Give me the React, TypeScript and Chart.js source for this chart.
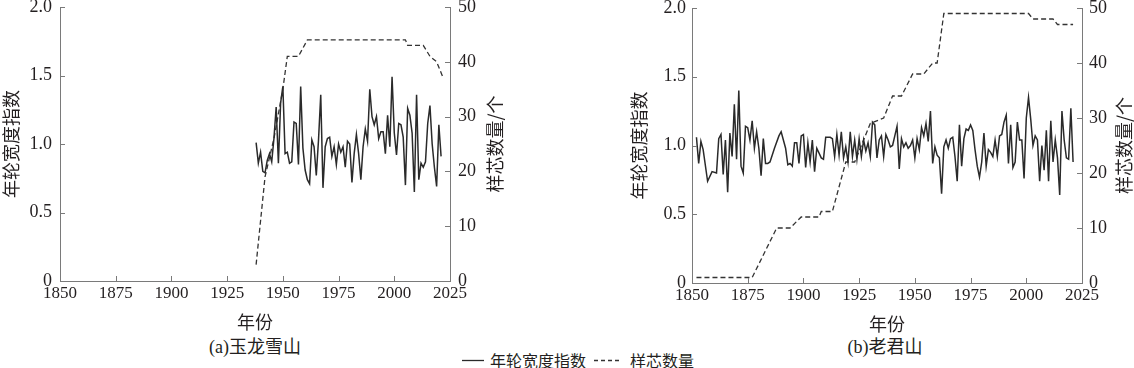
import React, { useEffect, useRef } from 'react';
import { Chart, registerables } from 'chart.js';

Chart.register(...registerables);

// ---------- data ----------
const xTickYears = [1850, 1875, 1900, 1925, 1950, 1975, 2000, 2025];

// (a) 玉龙雪山 — ring width index, yearly from 1938
const yulongStartYear = 1938;
const yulongRWI = [
  1.01, 0.86, 0.94, 0.8, 0.79, 0.88, 0.93, 0.87, 1.04, 1.27,
  0.86, 1.3, 1.42, 0.93, 0.94, 0.86, 0.87, 1.16, 1.15, 0.85,
  1.42, 0.97, 0.81, 0.74, 0.71, 1.03, 0.98, 0.77, 1.03, 1.36,
  0.68, 0.98, 1.04, 1.05, 0.91, 0.98, 0.85, 1.0, 0.94, 0.98,
  0.83, 1.02, 1.0, 0.72, 0.93, 1.07, 0.93, 0.74, 0.98, 1.11,
  1.02, 1.4, 1.2, 1.14, 1.2, 1.04, 1.09, 1.09, 0.93, 1.21,
  0.98, 1.49, 1.08, 0.92, 1.15, 1.14, 1.05, 0.7, 1.26, 1.21,
  1.08, 0.65, 1.36, 0.74, 0.86, 0.83, 0.87, 1.15, 1.28, 1.0,
  0.83, 0.69, 1.14, 0.91,
];
// (a) sample depth
const yulongDepthYears = [1938, 1940, 1942, 1946, 1950, 1952, 1957, 1961, 2005, 2006, 2013, 2016, 2019, 2022];
const yulongDepth = [3, 11, 19, 26, 35, 41, 41, 44, 44, 43, 43, 41, 40, 37];

// (b) 老君山 — ring width index
const laojunYears = [
  1852, 1853, 1854, 1855, 1857, 1859, 1861, 1862, 1863, 1864,
  1865, 1866, 1867, 1868, 1869, 1870, 1871, 1872, 1873, 1874,
  1875, 1876, 1877, 1878, 1879, 1880, 1881, 1882, 1883, 1884,
  1885, 1887, 1889, 1890, 1892, 1893, 1894, 1895, 1896, 1897,
  1898, 1899, 1900, 1901, 1902, 1903, 1904, 1905, 1906, 1908,
  1909, 1910, 1912, 1913, 1914, 1915, 1916, 1917, 1918, 1919,
  1920, 1921, 1922, 1923, 1924, 1925, 1926, 1927, 1928, 1929,
  1930, 1931, 1932, 1933, 1934, 1935, 1936, 1937, 1938, 1939,
  1940, 1941, 1942, 1943, 1944, 1945, 1946, 1947, 1948, 1949,
  1950, 1951, 1952, 1953, 1954, 1955, 1956, 1957, 1958, 1959,
  1960, 1961, 1962, 1963, 1964, 1965, 1966, 1967, 1968, 1969,
  1970, 1971, 1972, 1973, 1974, 1975, 1976, 1977, 1978, 1979,
  1980, 1981, 1982, 1983, 1984, 1985, 1986, 1987, 1988, 1989,
  1990, 1991, 1992, 1993, 1994, 1995, 1996, 1997, 1998, 1999,
  2000, 2001, 2002, 2003, 2004, 2005, 2006, 2007, 2008, 2009,
  2010, 2011, 2012, 2013, 2014, 2015, 2016, 2017, 2018, 2019,
  2020, 2021,
];
const laojunRWI = [
  1.06, 0.87, 1.03, 0.97, 0.74, 0.81, 0.8, 1.05, 1.08, 0.79,
  1.04, 0.66, 1.09, 0.92, 1.3, 0.9, 1.4, 0.85, 0.8, 1.14,
  1.13, 1.04, 1.18, 0.98, 1.1, 0.98, 0.78, 1.05, 0.87, 0.87,
  0.88, 0.98, 1.07, 1.1, 0.98, 0.86, 0.87, 0.85, 1.02, 1.02,
  0.87, 1.07, 1.08, 0.84, 1.02, 0.88, 1.04, 0.81, 0.98, 0.91,
  0.9, 1.06, 1.06, 1.05, 0.92, 1.08, 0.93, 1.1, 0.91, 0.99,
  0.88, 1.1, 0.92, 1.04, 0.9, 1.05, 0.92, 1.04, 0.96, 1.02,
  0.92, 1.17, 1.15, 0.91, 1.04, 1.07, 0.92, 1.08, 1.04, 0.99,
  1.0, 1.07, 1.14, 0.83, 1.05, 0.99, 1.02, 0.98, 1.0, 1.04,
  0.91, 1.05, 0.97, 1.13, 1.07, 1.16, 1.03, 1.25, 0.87, 0.99,
  0.93, 0.91, 0.65, 0.99, 1.04, 0.98, 1.05, 1.06, 0.92, 0.74,
  1.15, 0.85, 1.05, 1.12, 1.11, 1.15, 1.11, 0.97, 0.85, 0.77,
  0.88, 1.09, 0.85, 0.97, 0.95, 0.92, 1.04, 0.92, 1.07, 1.08,
  1.17, 1.22, 0.87, 1.15, 0.84, 0.88, 1.17, 1.04, 1.04, 0.76,
  1.2, 1.35, 1.19, 1.0, 1.07, 1.04, 0.74, 1.0, 0.82, 1.11,
  0.74, 1.18, 0.88, 1.04, 0.91, 0.64, 1.25, 1.04, 0.91, 0.9,
  1.27, 0.88,
];
// (b) sample depth
const laojunDepthYears = [1852, 1877, 1888, 1894, 1899, 1907, 1908, 1913, 1919, 1923, 1930, 1936, 1940, 1944, 1949, 1954, 1958, 1960, 1963, 2001, 2003, 2012, 2014, 2021];
const laojunDepth = [1, 1, 10, 10, 12, 12, 13, 13, 22, 22, 29, 30, 34, 34, 38, 38, 40, 40, 49, 49, 48, 48, 47, 47];

// ---------- styles ----------
const TEXT = '#231f20';
const AXIS = '#7a7a7a';
const SERIF = "'Liberation Serif', 'Times New Roman', serif";
const CJK = "'Noto Sans CJK SC', 'Liberation Serif', sans-serif";
const MIXED = "'Liberation Serif', 'Noto Sans CJK SC', serif";
const TICK_LEN = 5;

const axisExtras = {
  id: 'axisExtras',
  afterDraw(chart: any, _args: any, opts: any) {
    const ctx = chart.ctx;
    const { x, y, y1 } = chart.scales;
    ctx.save();
    ctx.strokeStyle = AXIS;
    ctx.lineWidth = 1;
    ctx.beginPath();
    x.ticks.forEach((t: any) => {
      const p = Math.round(x.getPixelForValue(t.value)) + 0.5;
      ctx.moveTo(p, x.top);
      ctx.lineTo(p, x.top - TICK_LEN);
    });
    y.ticks.forEach((t: any) => {
      const p = Math.round(y.getPixelForValue(t.value)) + 0.5;
      ctx.moveTo(y.right, p);
      ctx.lineTo(y.right + TICK_LEN, p);
    });
    y1.ticks.forEach((t: any) => {
      const p = Math.round(y1.getPixelForValue(t.value)) + 0.5;
      ctx.moveTo(y1.left, p);
      ctx.lineTo(y1.left - TICK_LEN, p);
    });
    ctx.stroke();
    const ca = chart.chartArea;
    ctx.fillStyle = TEXT;
    ctx.font = `18px ${CJK}`;
    ctx.textAlign = 'center';
    ctx.textBaseline = 'middle';
    ctx.translate(ca.right + opts.titleOffset, (ca.top + ca.bottom) / 2);
    ctx.rotate(-Math.PI / 2);
    ctx.fillText(opts.rightTitle, 0, 0);
    ctx.restore();
  },
};

type PanelProps = {
  left: number;
  width: number;
  height: number;
  padTop: number;
  yLeftWidth: number;
  yRightWidth: number;
  yLeftPad: number;
  yRightPad: number;
  titleOffset: number;
  rwYears: number[];
  rwValues: number[];
  depthYears: number[];
  depthValues: number[];
};

function Panel(p: PanelProps) {
  const ref = useRef<HTMLCanvasElement | null>(null);
  useEffect(() => {
    if (!ref.current) return;
    const chart = new Chart(ref.current, {
      type: 'line',
      data: {
        datasets: [
          {
            label: '年轮宽度指数',
            data: p.rwYears.map((yr, i) => ({ x: yr, y: p.rwValues[i] })),
            yAxisID: 'y',
            borderColor: '#2a2a2a',
            borderWidth: 1.5,
            pointRadius: 0,
            tension: 0,
          },
          {
            label: '样芯数量',
            data: p.depthYears.map((yr, i) => ({ x: yr, y: p.depthValues[i] })),
            yAxisID: 'y1',
            borderColor: '#333333',
            borderWidth: 1.3,
            borderDash: [5, 3],
            pointRadius: 0,
            tension: 0,
          },
        ],
      },
      options: {
        animation: false,
        responsive: false,
        events: [],
        layout: { padding: { top: p.padTop, left: 0, right: 0, bottom: 0 } },
        plugins: {
          legend: { display: false },
          tooltip: { enabled: false },
          axisExtras: { rightTitle: '样芯数量/个', titleOffset: p.titleOffset },
        } as any,
        scales: {
          x: {
            type: 'linear',
            min: 1850,
            max: 2025,
            afterBuildTicks: (s: any) => {
              s.ticks = xTickYears.map((v) => ({ value: v }));
            },
            ticks: {
              autoSkip: false,
              maxRotation: 0,
              minRotation: 0,
              padding: 2,
              color: TEXT,
              font: { family: SERIF, size: 17 },
              callback: (v: any) => String(v),
            },
            grid: { display: false, drawTicks: false },
            border: { display: true, color: AXIS, width: 1 },
            title: {
              display: true,
              text: '年份',
              color: TEXT,
              font: { family: CJK, size: 18 },
              padding: 0,
            },
            afterFit: (s: any) => {
              s.height = 52;
            },
          },
          y: {
            position: 'left',
            min: 0,
            max: 2,
            ticks: {
              stepSize: 0.5,
              padding: p.yLeftPad,
              color: TEXT,
              font: { family: SERIF, size: 18 },
              callback: (v: any) => (Number(v) === 0 ? '0' : Number(v).toFixed(1)),
            },
            grid: { display: false, drawTicks: false },
            border: { display: true, color: AXIS, width: 1 },
            title: {
              display: true,
              text: '年轮宽度指数',
              color: TEXT,
              font: { family: CJK, size: 18 },
              padding: 0,
            },
            afterFit: (s: any) => {
              s.width = p.yLeftWidth;
            },
          },
          y1: {
            position: 'right',
            min: 0,
            max: 50,
            ticks: {
              stepSize: 10,
              padding: p.yRightPad,
              color: TEXT,
              font: { family: SERIF, size: 18 },
              callback: (v: any) => String(v),
            },
            grid: { display: false, drawTicks: false },
            border: { display: true, color: AXIS, width: 1 },
            afterFit: (s: any) => {
              s.width = p.yRightWidth;
            },
          },
        },
      } as any,
      plugins: [axisExtras as any],
    });
    return () => chart.destroy();
  }, []);
  return (
    <canvas
      ref={ref}
      width={p.width}
      height={p.height}
      style={{ position: 'absolute', left: p.left, top: -20, width: p.width, height: p.height }}
    />
  );
}

const textStyle: React.CSSProperties = {
  position: 'absolute',
  color: TEXT,
  fontFamily: MIXED,
  whiteSpace: 'nowrap',
};

export default function App() {
  return (
    <div
      style={{
        position: 'absolute',
        left: 0,
        top: 0,
        width: 1134,
        height: 368,
        overflow: 'hidden',
        background: '#ffffff',
      }}
    >
      <Panel
        left={0}
        width={520}
        height={353}
        padTop={27}
        yLeftWidth={60}
        yRightWidth={70}
        yLeftPad={8}
        yRightPad={8}
        titleOffset={45}
        rwYears={yulongRWI.map((_, i) => yulongStartYear + i)}
        rwValues={yulongRWI}
        depthYears={yulongDepthYears}
        depthValues={yulongDepth}
      />
      <Panel
        left={628}
        width={506}
        height={355}
        padTop={28}
        yLeftWidth={64}
        yRightWidth={52}
        yLeftPad={6}
        yRightPad={7}
        titleOffset={42}
        rwYears={laojunYears}
        rwValues={laojunRWI}
        depthYears={laojunDepthYears}
        depthValues={laojunDepth}
      />
      <div style={{ ...textStyle, left: 155, width: 200, top: 336, lineHeight: '22px', fontSize: 18, textAlign: 'center' }}>
        (a)玉龙雪山
      </div>
      <div style={{ ...textStyle, left: 785, width: 200, top: 336, lineHeight: '22px', fontSize: 18, textAlign: 'center' }}>
        (b)老君山
      </div>
      <svg style={{ position: 'absolute', left: 460, top: 354, overflow: 'visible' }} width={170} height={12}>
        <line x1={2} y1={6.5} x2={24} y2={6.5} stroke="#2a2a2a" strokeWidth={1.3} />
        <line x1={134} y1={6.5} x2={160} y2={6.5} stroke="#333333" strokeWidth={1.3} strokeDasharray="4,3" />
      </svg>
      <div style={{ ...textStyle, left: 490, top: 350, lineHeight: '20px', fontSize: 16, fontFamily: CJK }}>
        年轮宽度指数
      </div>
      <div style={{ ...textStyle, left: 630, top: 350, lineHeight: '20px', fontSize: 16, fontFamily: CJK }}>
        样芯数量
      </div>
    </div>
  );
}
